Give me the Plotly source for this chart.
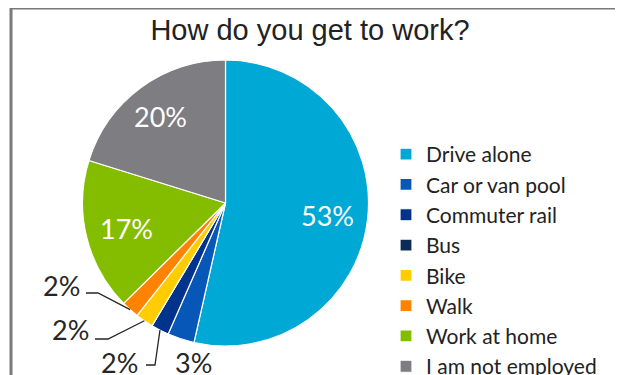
import math
import plotly.graph_objects as go

categories = ["Drive alone", "Car or van pool", "Commuter rail", "Bus",
              "Bike", "Walk", "Work at home", "I am not employed"]
values = [53, 3, 2, 0, 2, 2, 17, 20]
colors = ["#00A8D6", "#0757B8", "#00338C", "#0C2B55",
          "#FFCC00", "#FF8200", "#84BD00", "#7D7D82"]
pct_labels = [f"{v}%" for v in values]

W, H = 623, 375
OX, OY = 8, 8                      # page offset of the plot div
cx, cy, r = 225.5 - OX, 203 - OY, 143


def px(x):
    return x / W


def py(y):
    return 1 - y / H


fig = go.Figure(go.Pie(
    labels=categories,
    values=values,
    text=pct_labels,
    textinfo="none",
    sort=False,
    direction="clockwise",
    rotation=0,
    marker=dict(colors=colors, line=dict(color="white", width=1.2)),
    domain=dict(x=[px(cx - r), px(cx + r)], y=[py(cy + r), py(cy - r)]),
    hoverinfo="label+text",
    showlegend=True,
))

# label placement (page px): label centre, elbow start, elbow end (None = no callout)
label_layout = {
    "Drive alone": ((327.5, 215), None, None, "white"),
    "I am not employed": ((160, 116), None, None, "white"),
    "Work at home": ((126.5, 228), None, None, "white"),
    "Walk": ((61, 285), (86, 293), (98, 293), "#262626"),
    "Bike": ((70, 329), (95, 339), (108, 339), "#262626"),
    "Commuter rail": ((119, 362), (146, 365), (155, 365), "#262626"),
    "Car or van pool": ((193, 362), None, None, "#262626"),
}
total = sum(values)
cum = 0
annotations = []
shapes = []
for cat, val, lab in zip(categories, values, pct_labels):
    mid = (cum + val / 2) / total
    cum += val
    if cat not in label_layout:
        continue
    (lx, ly), k0, k1, col = label_layout[cat]
    annotations.append(dict(x=px(lx - OX), y=py(ly - OY), xref="paper", yref="paper",
                            text=lab, showarrow=False, xanchor="center", yanchor="middle",
                            font=dict(family="Lato, sans-serif", size=27, color=col)))
    if k0 is not None:
        ang = 2 * math.pi * mid
        tx, ty = cx + r * math.sin(ang), cy - r * math.cos(ang)
        path = (f"M{px(k0[0] - OX)},{py(k0[1] - OY)} L{px(k1[0] - OX)},{py(k1[1] - OY)} "
                f"L{px(tx)},{py(ty)}")
        shapes.append(dict(type="path", xref="paper", yref="paper", path=path,
                           line=dict(color="#262626", width=1.3)))

shapes.append(dict(type="rect", xref="paper", yref="paper",
                   x0=px(11 - OX), x1=px(619 - OX), y0=-0.1, y1=1,
                   line=dict(color="#7A7A7A", width=3), fillcolor="rgba(0,0,0,0)",
                   layer="below"))

fig.update_layout(
    width=W, height=H,
    margin=dict(l=0, r=0, t=0, b=0, autoexpand=False),
    paper_bgcolor="white",
    title=dict(text="How do you get to work?", x=px(310 - OX), xanchor="center",
               y=py(30 - OY), yanchor="middle",
               font=dict(family="Liberation Sans, Arial, sans-serif", size=29, color="#222222")),
    legend=dict(x=px(386 - OX), xanchor="left", y=py(134 - OY), yanchor="top",
                font=dict(family="Lato, sans-serif", size=21, color="#222222"),
                traceorder="normal", itemclick=False, bgcolor="rgba(0,0,0,0)"),
    annotations=annotations,
    shapes=shapes,
)

fig.write_html("out.html")
